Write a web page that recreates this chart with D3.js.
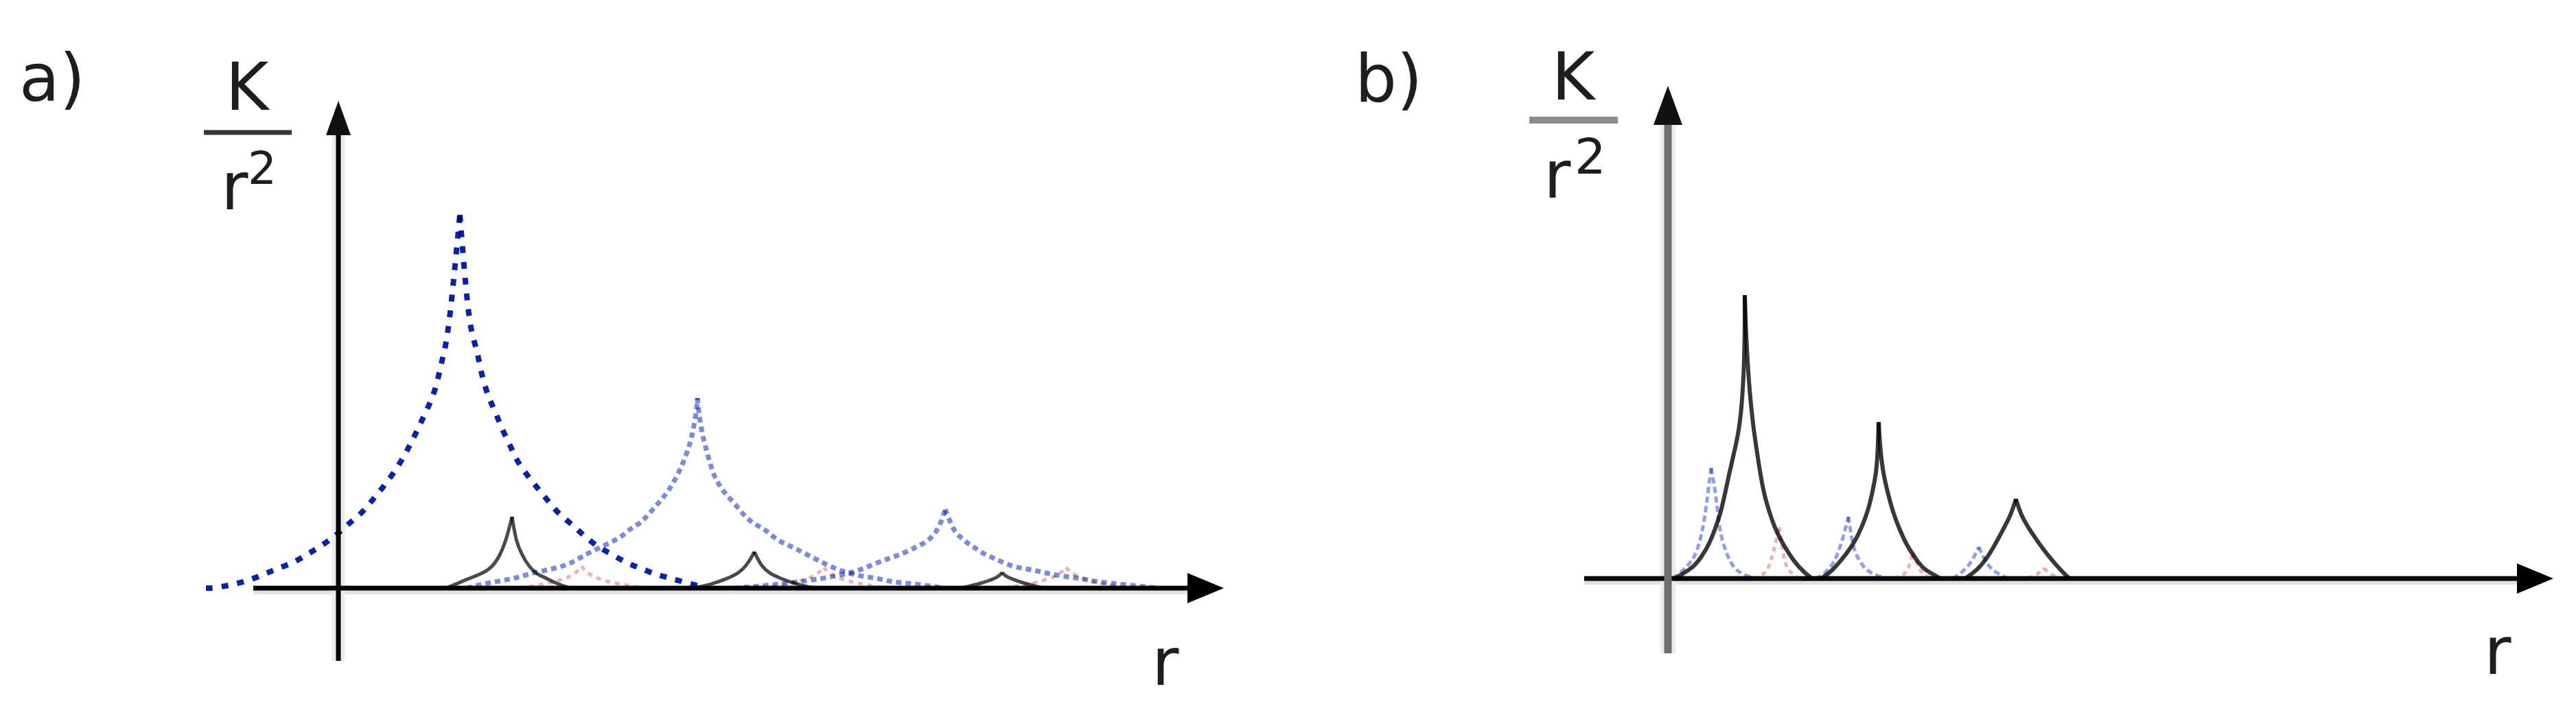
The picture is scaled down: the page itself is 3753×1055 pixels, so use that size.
<!DOCTYPE html>
<html>
<head>
<meta charset="utf-8">
<script src="https://cdn.jsdelivr.net/npm/d3@7"></script>
<style>
  body { margin: 0; background: #fff; }
  text { font-family: "DejaVu Sans", sans-serif; fill: #1e1e1e; }
</style>
</head>
<body>
<div id="chart-area"></div>
<script>
// values: [r, K/r^2] in arbitrary units (origin = axis crossing)

// panel a) - blue dotted cusps
var aBlue1 = [[-1.93,0.00],[-1.82,0.00],[-1.59,0.04],[-1.34,0.10],[-1.11,0.19],[-0.88,0.29],[-0.65,0.37],
  [-0.44,0.50],[-0.21,0.64],[-0.01,0.79],[0.15,0.94],[0.35,1.10],[0.50,1.29],[0.65,1.47],[0.80,1.67],
  [0.94,1.89],[1.05,2.10],[1.15,2.30],[1.26,2.54],[1.36,2.75],[1.44,2.99],[1.49,3.24],[1.55,3.47],
  [1.59,3.70],[1.65,4.17],[1.77,5.44],
  [1.87,4.19],[1.94,3.70],[2.02,3.47],[2.06,3.24],[2.12,2.99],[2.20,2.75],[2.30,2.54],[2.39,2.30],
  [2.50,2.09],[2.59,1.87],[2.74,1.66],[2.89,1.47],[3.04,1.29],[3.20,1.09],[3.39,0.94],[3.57,0.77],
  [3.75,0.62],[3.97,0.50],[4.19,0.37],[4.40,0.29],[4.62,0.20],[4.85,0.14],[5.10,0.07],[5.37,0.00]];
var aBlue2 = [[1.87,0.00],[2.13,0.07],[2.59,0.14],[2.80,0.22],[3.24,0.30],[3.44,0.39],[3.60,0.49],
  [3.77,0.57],[3.97,0.67],[4.12,0.74],[4.25,0.87],[4.40,0.94],[4.54,1.10],[4.69,1.27],[4.80,1.40],
  [4.94,1.64],[5.04,1.87],[5.12,2.09],[5.17,2.30],[5.22,2.60],[5.23,2.77],
  [5.25,2.57],[5.29,2.30],[5.34,2.09],[5.40,1.87],[5.47,1.64],[5.55,1.50],[5.64,1.37],[5.77,1.24],
  [5.90,1.07],[6.04,0.94],[6.20,0.87],[6.34,0.74],[6.49,0.65],[6.64,0.59],[6.82,0.49],[7.00,0.40],
  [7.20,0.30],[7.42,0.22],[7.64,0.17],[7.87,0.14],[8.07,0.09],[8.30,0.07],[8.57,0.04],[8.82,0.00]];
var aBlue3 = [[5.77,0.00],[6.37,0.05],[6.84,0.11],[7.24,0.17],[7.57,0.25],[7.80,0.35],[8.04,0.44],
  [8.24,0.51],[8.40,0.59],[8.57,0.67],[8.70,0.80],[8.77,0.94],[8.82,1.07],[8.84,1.15],
  [8.88,1.05],[8.94,0.90],[9.00,0.80],[9.09,0.72],[9.17,0.65],[9.27,0.59],[9.40,0.50],[9.54,0.44],
  [9.69,0.37],[9.87,0.30],[10.10,0.27],[10.30,0.22],[10.57,0.17],[10.84,0.14],[11.04,0.09],
  [11.47,0.05],[11.95,0.00]];

// panel a) - grey solid cusps
var aBlack1 = [[1.57,0.00],[1.74,0.07],[1.90,0.14],[2.07,0.20],[2.24,0.30],[2.35,0.47],[2.42,0.64],
  [2.47,0.80],[2.53,1.04],[2.59,0.67],[2.67,0.50],[2.74,0.37],[2.82,0.27],[2.90,0.20],[3.04,0.14],
  [3.17,0.07],[3.37,0.00]];
var aBlack2 = [[5.17,0.00],[5.42,0.05],[5.67,0.14],[5.84,0.22],[5.95,0.34],[6.02,0.45],[6.06,0.53],
  [6.10,0.44],[6.17,0.32],[6.27,0.22],[6.44,0.14],[6.67,0.06],[6.92,0.00]];
var aBlack3 = [[9.07,0.00],[9.37,0.07],[9.57,0.14],[9.64,0.19],[9.67,0.23],[9.70,0.19],[9.79,0.14],
  [9.99,0.07],[10.27,0.00]];

// panel a) - faint red cusps
var aRed1 = [[2.64,0.00],[3.07,0.07],[3.32,0.14],[3.47,0.22],[3.54,0.32],[3.62,0.22],[3.77,0.14],
  [4.02,0.07],[4.44,0.00]];
var aRed2 = [[6.17,0.00],[6.60,0.07],[6.85,0.14],[7.00,0.22],[7.07,0.30],[7.15,0.22],[7.30,0.14],
  [7.55,0.07],[7.97,0.00]];
var aRed3 = [[9.70,0.00],[10.13,0.07],[10.38,0.14],[10.53,0.22],[10.60,0.30],[10.68,0.22],[10.83,0.14],
  [11.08,0.07],[11.50,0.00]];

// panel b) - black solid cusps
var bBlack1 = [[0.10,0.00],[0.20,0.06],[0.37,0.16],[0.50,0.33],[0.60,0.50],[0.68,0.70],[0.77,0.96],
  [0.83,1.23],[0.90,1.56],[0.98,1.90],[1.05,2.23],[1.10,2.83],[1.12,3.50],[1.12,4.13],
  [1.14,3.50],[1.18,2.83],[1.24,2.23],[1.29,1.90],[1.34,1.56],[1.40,1.23],[1.48,0.96],[1.57,0.70],
  [1.70,0.46],[1.83,0.26],[1.97,0.10],[2.10,0.00]];
var bBlack2 = [[2.23,0.00],[2.33,0.06],[2.47,0.20],[2.60,0.36],[2.72,0.53],[2.83,0.76],[2.92,1.00],
  [2.98,1.26],[3.04,1.56],[3.06,1.93],[3.07,2.28],
  [3.09,1.93],[3.13,1.56],[3.20,1.26],[3.28,0.96],[3.37,0.73],[3.47,0.50],[3.60,0.30],[3.73,0.13],
  [3.87,0.06],[3.97,0.00]];
var bBlack3 = [[4.33,0.00],[4.51,0.12],[4.69,0.35],[4.87,0.69],[5.00,0.93],[5.07,1.16],
  [5.14,0.93],[5.28,0.69],[5.52,0.35],[5.75,0.09],[5.85,0.00]];

// panel b) - light blue dashed cusps
var bBlue1 = [[0.07,0.00],[0.20,0.10],[0.30,0.20],[0.40,0.33],[0.47,0.56],[0.53,0.83],[0.58,1.23],
  [0.63,1.61],[0.70,1.23],[0.75,0.70],[0.83,0.43],[0.90,0.26],[0.98,0.13],[1.10,0.06],[1.25,0.00]];
var bBlue2 = [[2.15,0.00],[2.27,0.06],[2.33,0.13],[2.42,0.23],[2.50,0.43],[2.57,0.66],[2.63,0.90],
  [2.70,0.43],[2.77,0.30],[2.85,0.16],[2.98,0.06],[3.20,0.00]];
var bBlue3 = [[4.15,0.00],[4.30,0.10],[4.42,0.23],[4.53,0.46],[4.63,0.23],[4.75,0.10],[4.95,0.00]];

// panel b) - faint red cusps
var bRed1 = [[1.25,0.00],[1.40,0.06],[1.47,0.16],[1.52,0.33],[1.57,0.53],[1.62,0.75],[1.67,0.46],
  [1.70,0.23],[1.77,0.10],[1.90,0.00]];
var bRed2 = [[3.30,0.00],[3.47,0.06],[3.53,0.23],[3.57,0.38],[3.62,0.23],[3.70,0.06],[3.85,0.00]];
var bRed3 = [[5.25,0.00],[5.40,0.07],[5.48,0.15],[5.56,0.07],[5.70,0.00]];

var panelLabels = ["a)", "b)"];
var yLabelTop = "K";
var yLabelBottom = "r";
var yLabelPower = "2";
var xLabel = "r";

// ---------- layout ----------
var width = 3753, height = 1055;

var svg = d3.select("#chart-area")
  .append("svg")
    .attr("width", width)
    .attr("height", height);

// 1 data unit = 100px, same for both panels
var x = d3.scaleLinear().domain([0, 1]).range([0, 100]);
var y = d3.scaleLinear().domain([0, 1]).range([0, -100]);

var panels = [
  { label: panelLabels[0], ox: 493, oy: 857,
    rMin: -1.24, rMax: 12.90, kMin: -1.06, kMax: 7.10,
    yAxisColor: "#000", yAxisWidth: 7, yArrow: [50, 18], xArrow: [53, 22],
    labelPos: [28, 147], kPos: [360, 160], frac: [297, 425, 193, 7, "#353535"],
    rPos: [322, 305], powPos: [361, 268, 66], xLabPos: [1678, 998],
    series: [
      { data: [aRed1, aRed2, aRed3], color: "#eea3a3", w: 5, dash: "7 7", op: 0.85 },
      { data: [aBlack1, aBlack2, aBlack3], color: "#4a4a4a", w: 5, dash: null, op: 1 },
      { data: [aBlue2, aBlue3], color: "#4a5dcc", w: 7, dash: "8 6", op: 0.72 },
      { data: [aBlue1], color: "#0b22a8", w: 8, dash: "10 13", op: 1 }
    ] },
  { label: panelLabels[1], ox: 2430, oy: 843,
    rMin: -1.22, rMax: 12.90, kMin: -1.09, kMax: 7.18,
    yAxisColor: "#6e6e6e", yAxisWidth: 11, yArrow: [57, 21], xArrow: [53, 22],
    labelPos: [1974, 148], kPos: [2292, 145], frac: [2228, 2357, 175, 10, "#8c8c8c"],
    rPos: [2249, 288], powPos: [2294, 253, 72], xLabPos: [3619, 982],
    series: [
      { data: [bRed1, bRed2, bRed3], color: "#eeaaaa", w: 5, dash: "7 6", op: 0.9 },
      { data: [bBlue1, bBlue2, bBlue3], color: "#8595e4", w: 5, dash: "9 5", op: 0.9 },
      { data: [bBlack1, bBlack2, bBlack3], color: "#383838", w: 6, dash: null, op: 1 }
    ] }
];

// basis smooths the hand-read points, ends stay put so the tips stay sharp
var line = d3.line()
  .x(function(d){ return x(d[0]); })
  .y(function(d){ return y(d[1]); })
  .curve(d3.curveBasis);

// cut a cusp at its top
function branches(pts){
  var i = d3.maxIndex(pts, function(d){ return d[1]; });
  return [pts.slice(0, i + 1), pts.slice(i)];
}

panels.forEach(function(p){
  var g = svg.append("g")
    .attr("transform", "translate(" + p.ox + "," + p.oy + ")");

  var x0 = x(p.rMin), x1 = x(p.rMax);
  var yb = y(p.kMin), yt = y(p.kMax);

  // soft grey halo like the blurry original
  g.append("line")
    .attr("x1", x0).attr("x2", x1 - p.xArrow[0])
    .attr("y1", 4).attr("y2", 4)
    .attr("stroke", "#e2e2e2").attr("stroke-width", 10);
  g.append("line")
    .attr("x1", 0).attr("x2", 0)
    .attr("y1", yb).attr("y2", yt + p.yArrow[0])
    .attr("stroke", "#ececec").attr("stroke-width", p.yAxisWidth + 12);

  // axes
  g.append("line")
    .attr("class", "x-axis")
    .attr("x1", x0).attr("x2", x1 - p.xArrow[0] + 4)
    .attr("y1", 0).attr("y2", 0)
    .attr("stroke", "#000").attr("stroke-width", 7);
  g.append("path")
    .attr("d", "M" + x1 + ",0L" + (x1 - p.xArrow[0]) + "," + (-p.xArrow[1]) +
               "L" + (x1 - p.xArrow[0]) + "," + p.xArrow[1] + "Z")
    .attr("fill", "#000");

  g.append("line")
    .attr("class", "y-axis")
    .attr("x1", 0).attr("x2", 0)
    .attr("y1", yb).attr("y2", yt + p.yArrow[0] - 4)
    .attr("stroke", p.yAxisColor).attr("stroke-width", p.yAxisWidth);
  g.append("path")
    .attr("d", "M0," + yt + "L" + (-p.yArrow[1]) + "," + (yt + p.yArrow[0]) +
               "L" + p.yArrow[1] + "," + (yt + p.yArrow[0]) + "Z")
    .attr("fill", "#111");

  // curves
  p.series.forEach(function(s){
    s.data.forEach(function(c){
      g.selectAll(null)
        .data(branches(c))
        .enter()
        .append("path")
          .attr("d", line)
          .attr("fill", "none")
          .attr("stroke", s.color)
          .attr("stroke-width", s.w)
          .attr("stroke-dasharray", s.dash)
          .attr("stroke-opacity", s.op)
          .attr("stroke-linejoin", "round")
          .style("mix-blend-mode", "multiply");
    });
  });

  // texts
  svg.append("text")
    .attr("x", p.labelPos[0]).attr("y", p.labelPos[1])
    .attr("font-size", "96px")
    .text(p.label);

  svg.append("text")
    .attr("x", p.kPos[0]).attr("y", p.kPos[1])
    .attr("text-anchor", "middle")
    .attr("font-size", "96px")
    .text(yLabelTop);

  svg.append("line")
    .attr("x1", p.frac[0]).attr("x2", p.frac[1])
    .attr("y1", p.frac[2]).attr("y2", p.frac[2])
    .attr("stroke", p.frac[4]).attr("stroke-width", p.frac[3]);

  svg.append("text")
    .attr("x", p.rPos[0]).attr("y", p.rPos[1])
    .attr("font-size", "96px")
    .text(yLabelBottom);
  svg.append("text")
    .attr("x", p.powPos[0]).attr("y", p.powPos[1])
    .attr("font-size", p.powPos[2] + "px")
    .text(yLabelPower);

  svg.append("text")
    .attr("x", p.xLabPos[0]).attr("y", p.xLabPos[1])
    .attr("font-size", "96px")
    .text(xLabel);
});
</script>
</body>
</html>
